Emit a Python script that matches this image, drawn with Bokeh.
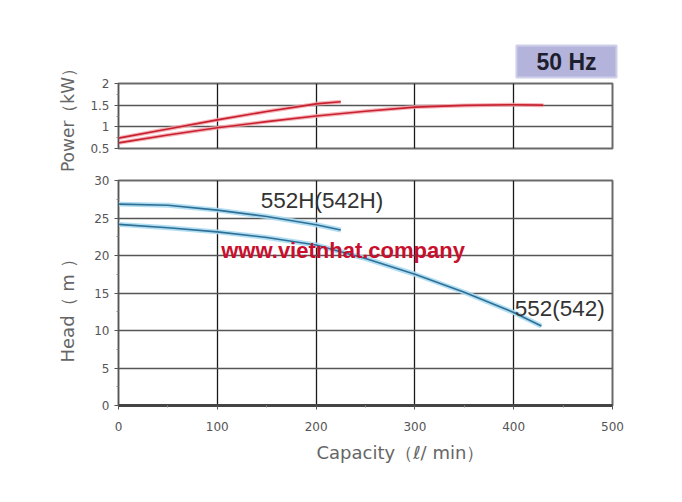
from bokeh.plotting import figure
from bokeh.layouts import column
from bokeh.models import Label, FixedTicker, Range1d, Title
from bokeh.embed import file_html
from bokeh.resources import INLINE

# ---- data ----
cap_pow_h = [0, 50, 100, 150, 200, 225]
pow_h = [0.74, 0.95, 1.16, 1.355, 1.53, 1.58]
cap_pow_s = [0, 50, 100, 150, 200, 250, 300, 350, 400, 430]
pow_s = [0.63, 0.81, 0.98, 1.12, 1.25, 1.36, 1.455, 1.495, 1.51, 1.50]

cap_head_h = [0, 50, 100, 150, 200, 225]
head_h = [26.85, 26.7, 26.05, 25.2, 24.1, 23.4]
cap_head_s = [0, 50, 100, 150, 200, 250, 300, 350, 400, 428]
head_s = [24.15, 23.7, 23.15, 22.4, 21.4, 19.6, 17.5, 15.1, 12.4, 10.6]

x_ticks = [0, 100, 200, 300, 400, 500]
pow_ticks = [0.5, 1, 1.5, 2]
head_ticks = [0, 5, 10, 15, 20, 25, 30]

label_h = "552H(542H)"
label_s = "552(542)"
watermark = "www.vietnhat.company"
freq = "50 Hz"
x_title = "Capacity（ℓ/ min）"
pow_title = "Power（kW）"
head_title = "Head（ m ）"

TICK_FONT = "DejaVu Sans"
TITLE_COLOR = "#666666"
GRID_H = "#555555"
GRID_V = "#1a1a1a"


def style(p):
    p.outline_line_color = "#6a6a6a"
    p.outline_line_width = 2
    p.xgrid.grid_line_color = GRID_V
    p.xgrid.grid_line_width = 1.3
    p.ygrid.grid_line_color = GRID_H
    p.ygrid.grid_line_width = 1.3
    for ax in p.axis:
        ax.axis_line_color = "#555555"
        ax.major_tick_line_color = "#555555"
        ax.minor_tick_line_color = "#888888"
        ax.major_tick_in = 0
        ax.major_tick_out = 4
        ax.minor_tick_in = 0
        ax.minor_tick_out = 2
        ax.major_label_text_font = TICK_FONT
        ax.major_label_text_font_size = "12px"
        ax.major_label_text_color = "#555555"


def side_title(text, standoff, offset=0, align="center", size="17px"):
    return Title(text=text, align=align, standoff=standoff, offset=offset,
                 text_font=TICK_FONT, text_font_size=size, text_font_style="normal",
                 text_color=TITLE_COLOR)


# ---- power figure ----
p1 = figure(width=674, height=174, output_backend="svg", toolbar_location=None,
            x_range=Range1d(0, 500), y_range=Range1d(0.5, 2),
            min_border_left=118, min_border_right=62, min_border_top=83,
            min_border_bottom=26)
p1.xaxis.visible = False
p1.xaxis.ticker = FixedTicker(ticks=x_ticks)
p1.yaxis.ticker = FixedTicker(ticks=pow_ticks, minor_ticks=[0.75, 1.25, 1.75])
style(p1)
p1.add_layout(side_title(pow_title, standoff=19), "left")

for xs, ys in [(cap_pow_h, pow_h), (cap_pow_s, pow_s)]:
    p1.line(xs, ys, line_color="#f2a0a8", line_width=4, line_alpha=0.8)
    p1.line(xs, ys, line_color="#c8202e", line_width=1.6)

p1.add_layout(Title(text=freq, align="right", offset=-4, standoff=12,
                    text_font="Liberation Sans", text_font_style="bold", text_font_size="23px",
                    text_color="#1e1e2e", background_fill_color="#b3b3db",
                    border_line_color="#cfcfea", border_line_width=2, padding=(20, 3)), "above")

# ---- head figure ----
p2 = figure(width=674, height=326, output_backend="svg", toolbar_location=None,
            x_range=Range1d(0, 500), y_range=Range1d(0, 30),
            min_border_left=118, min_border_right=62, min_border_top=6,
            min_border_bottom=95)
p2.xaxis.ticker = FixedTicker(ticks=x_ticks, minor_ticks=[50, 150, 250, 350, 450])
p2.yaxis.ticker = FixedTicker(ticks=head_ticks, minor_ticks=[2.5, 7.5, 12.5, 17.5, 22.5, 27.5])
style(p2)
p2.xaxis.major_label_standoff = 12
p2.xaxis.axis_line_color = "#444444"
p2.xaxis.axis_line_width = 3
p2.add_layout(side_title(head_title, standoff=28, offset=43, align="left", size="18px"), "left")
p2.add_layout(side_title(x_title, standoff=12, offset=198, align="left", size="18px"), "below")

for xs, ys in [(cap_head_h, head_h), (cap_head_s, head_s)]:
    p2.line(xs, ys, line_color="#a9daf2", line_width=5, line_alpha=0.9)
    p2.line(xs, ys, line_color="#2f6f95", line_width=1.6)

p2.add_layout(Label(x=144, y=27.3, text=label_h, text_align="left", text_baseline="middle",
                    text_font="Liberation Sans", text_font_size="22.5px", text_color="#333333"))
p2.add_layout(Label(x=401, y=12.9, text=label_s, text_align="left", text_baseline="middle",
                    text_font="Liberation Sans", text_font_size="22.5px", text_color="#333333"))
p2.add_layout(Label(x=104, y=20.7, text=watermark, text_align="left", text_baseline="middle",
                    text_font="Liberation Sans", text_font_style="bold", text_font_size="22px",
                    text_color="#c8102e"))

layout = column(p1, p2)
open("out.html", "w").write(file_html(layout, INLINE))
